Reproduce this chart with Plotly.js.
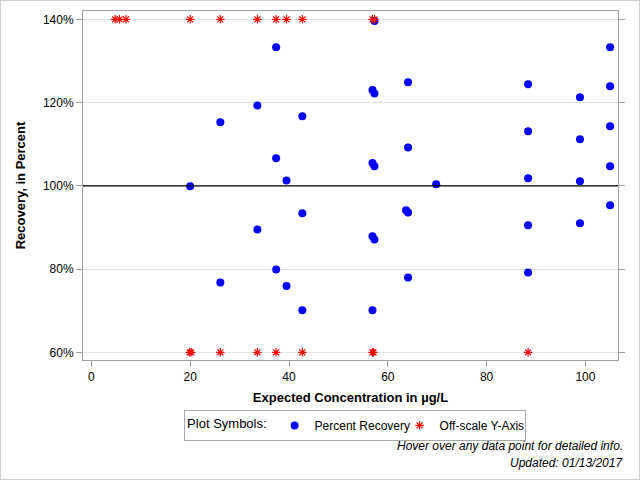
<!DOCTYPE html>
<html>
<head>
<meta charset="utf-8">
<script src="https://cdn.plot.ly/plotly-3.0.1.min.js"></script>
<style>
  html, body { margin: 0; padding: 0; background: #fff; }
  #chart { width: 638px; height: 478px; border: 1px solid #cfcfcf; }
</style>
</head>
<body>
<div id="chart"></div>
<script>
// Percent recovery points (expected concentration, recovery %)
const recovX = [20.0,
  26.1, 26.1,
  33.6, 33.6,
  37.4, 37.4, 37.4,
  39.5, 39.5,
  42.7, 42.7, 42.7,
  56.9, 56.9, 56.9, 56.9,
  57.3, 57.3, 57.3, 57.3,
  63.7,
  64.1, 64.1, 64.1, 64.1,
  69.8,
  88.4, 88.4, 88.4, 88.4, 88.4,
  98.9, 98.9, 98.9, 98.9,
  105.0, 105.0, 105.0, 105.0, 105.0];
const recovY = [99.9,
  115.3, 76.8,
  119.3, 89.5,
  133.3, 106.6, 79.9,
  101.3, 75.9,
  116.7, 93.4, 70.1,
  123.0, 105.5, 87.9, 70.1,
  139.6, 122.2, 104.7, 87.1,
  94.1,
  124.9, 109.2, 93.6, 78.0,
  100.4,
  124.4, 113.1, 101.8, 90.5, 79.2,
  121.3, 111.2, 101.1, 91.0,
  133.3, 123.9, 114.3, 104.7, 95.3];

// Off-scale points, pinned to the top (140%) or bottom (60%) of the axis
const offX = [4.8, 5.7, 7.0, 20.0, 26.1, 33.6, 37.4, 39.5, 42.7, 56.9, 57.3,
              19.9, 20.2, 26.1, 33.6, 37.4, 42.7, 56.9, 57.1, 88.4];
const offY = [140, 140, 140, 140, 140, 140, 140, 140, 140, 140, 140,
              60, 60, 60, 60, 60, 60, 60, 60, 60];

const yTicks = [60, 80, 100, 120, 140];
const xTicks = [0, 20, 40, 60, 80, 100];

const FONT = '"Liberation Sans", Arial, sans-serif';

const traces = [
  {
    x: recovX, y: recovY, type: 'scatter', mode: 'markers',
    name: 'Percent Recovery',
    marker: { symbol: 'circle', color: '#0000ff', size: 8, line: { width: 0 } }
  },
  {
    x: offX, y: offY, type: 'scatter', mode: 'markers',
    name: 'Off-scale Y-Axis',
    marker: { symbol: 'asterisk-open', color: '#ff0000', size: 7, line: { color: '#ff0000', width: 1.2 } }
  }
];

const layout = {
  width: 638, height: 478,
  margin: { l: 82, r: 21, t: 10, b: 119 },
  paper_bgcolor: '#ffffff', plot_bgcolor: '#ffffff',
  font: { family: FONT, size: 12, color: '#000' },
  showlegend: true,
  legend: {
    orientation: 'h', x: 0.189, xanchor: 'left', y: -0.143, yanchor: 'top',
    bordercolor: '#aaaaaa', borderwidth: 1, bgcolor: '#fff',
    font: { family: FONT, size: 12, color: '#000' },
    title: { text: 'Plot Symbols:', side: 'left', font: { family: FONT, size: 13, color: '#000' } },
    itemwidth: 30,
    entrywidth: 80
  },
  xaxis: {
    range: [-1.7, 106.6], tickvals: xTicks, ticktext: xTicks.map(String),
    showgrid: false, zeroline: false,
    showline: true, linecolor: '#a0a0a0', linewidth: 1, mirror: true,
    ticks: 'outside', ticklen: 6, tickcolor: '#a0a0a0',
    tickfont: { family: FONT, size: 12, color: '#000' },
    title: { text: '<b>Expected Concentration in µg/L</b>', font: { family: FONT, size: 13, color: '#000' }, standoff: 9 }
  },
  yaxis: {
    range: [58.15, 142.0], tickvals: yTicks, ticktext: yTicks.map(v => v + '%'),
    showgrid: true, gridcolor: '#e3e3e3', gridwidth: 1, zeroline: false,
    showline: true, linecolor: '#a0a0a0', linewidth: 1, mirror: 'ticks',
    ticks: 'outside', ticklen: 6, tickcolor: '#a0a0a0',
    tickfont: { family: FONT, size: 12, color: '#000' },
    title: { text: '<b>Recovery, in Percent</b>', font: { family: FONT, size: 13, color: '#000' }, standoff: 14 }
  },
  shapes: [
    { type: 'line', xref: 'paper', x0: 0, x1: 1, yref: 'y', y0: 100, y1: 100,
      line: { color: '#000', width: 1.2 }, layer: 'above' }
  ],
  annotations: [
    { text: '<i>Hover over any data point for detailed info.</i>', xref: 'paper', yref: 'paper',
      x: 1.013, y: -0.246, xanchor: 'right', yanchor: 'middle', showarrow: false,
      font: { family: FONT, size: 12, color: '#000' } },
    { text: '<i>Updated: 01/13/2017</i>', xref: 'paper', yref: 'paper',
      x: 1.013, y: -0.295, xanchor: 'right', yanchor: 'middle', showarrow: false,
      font: { family: FONT, size: 12, color: '#000' } }
  ]
};

Plotly.newPlot('chart', traces, layout, { displayModeBar: false });
</script>
</body>
</html>
